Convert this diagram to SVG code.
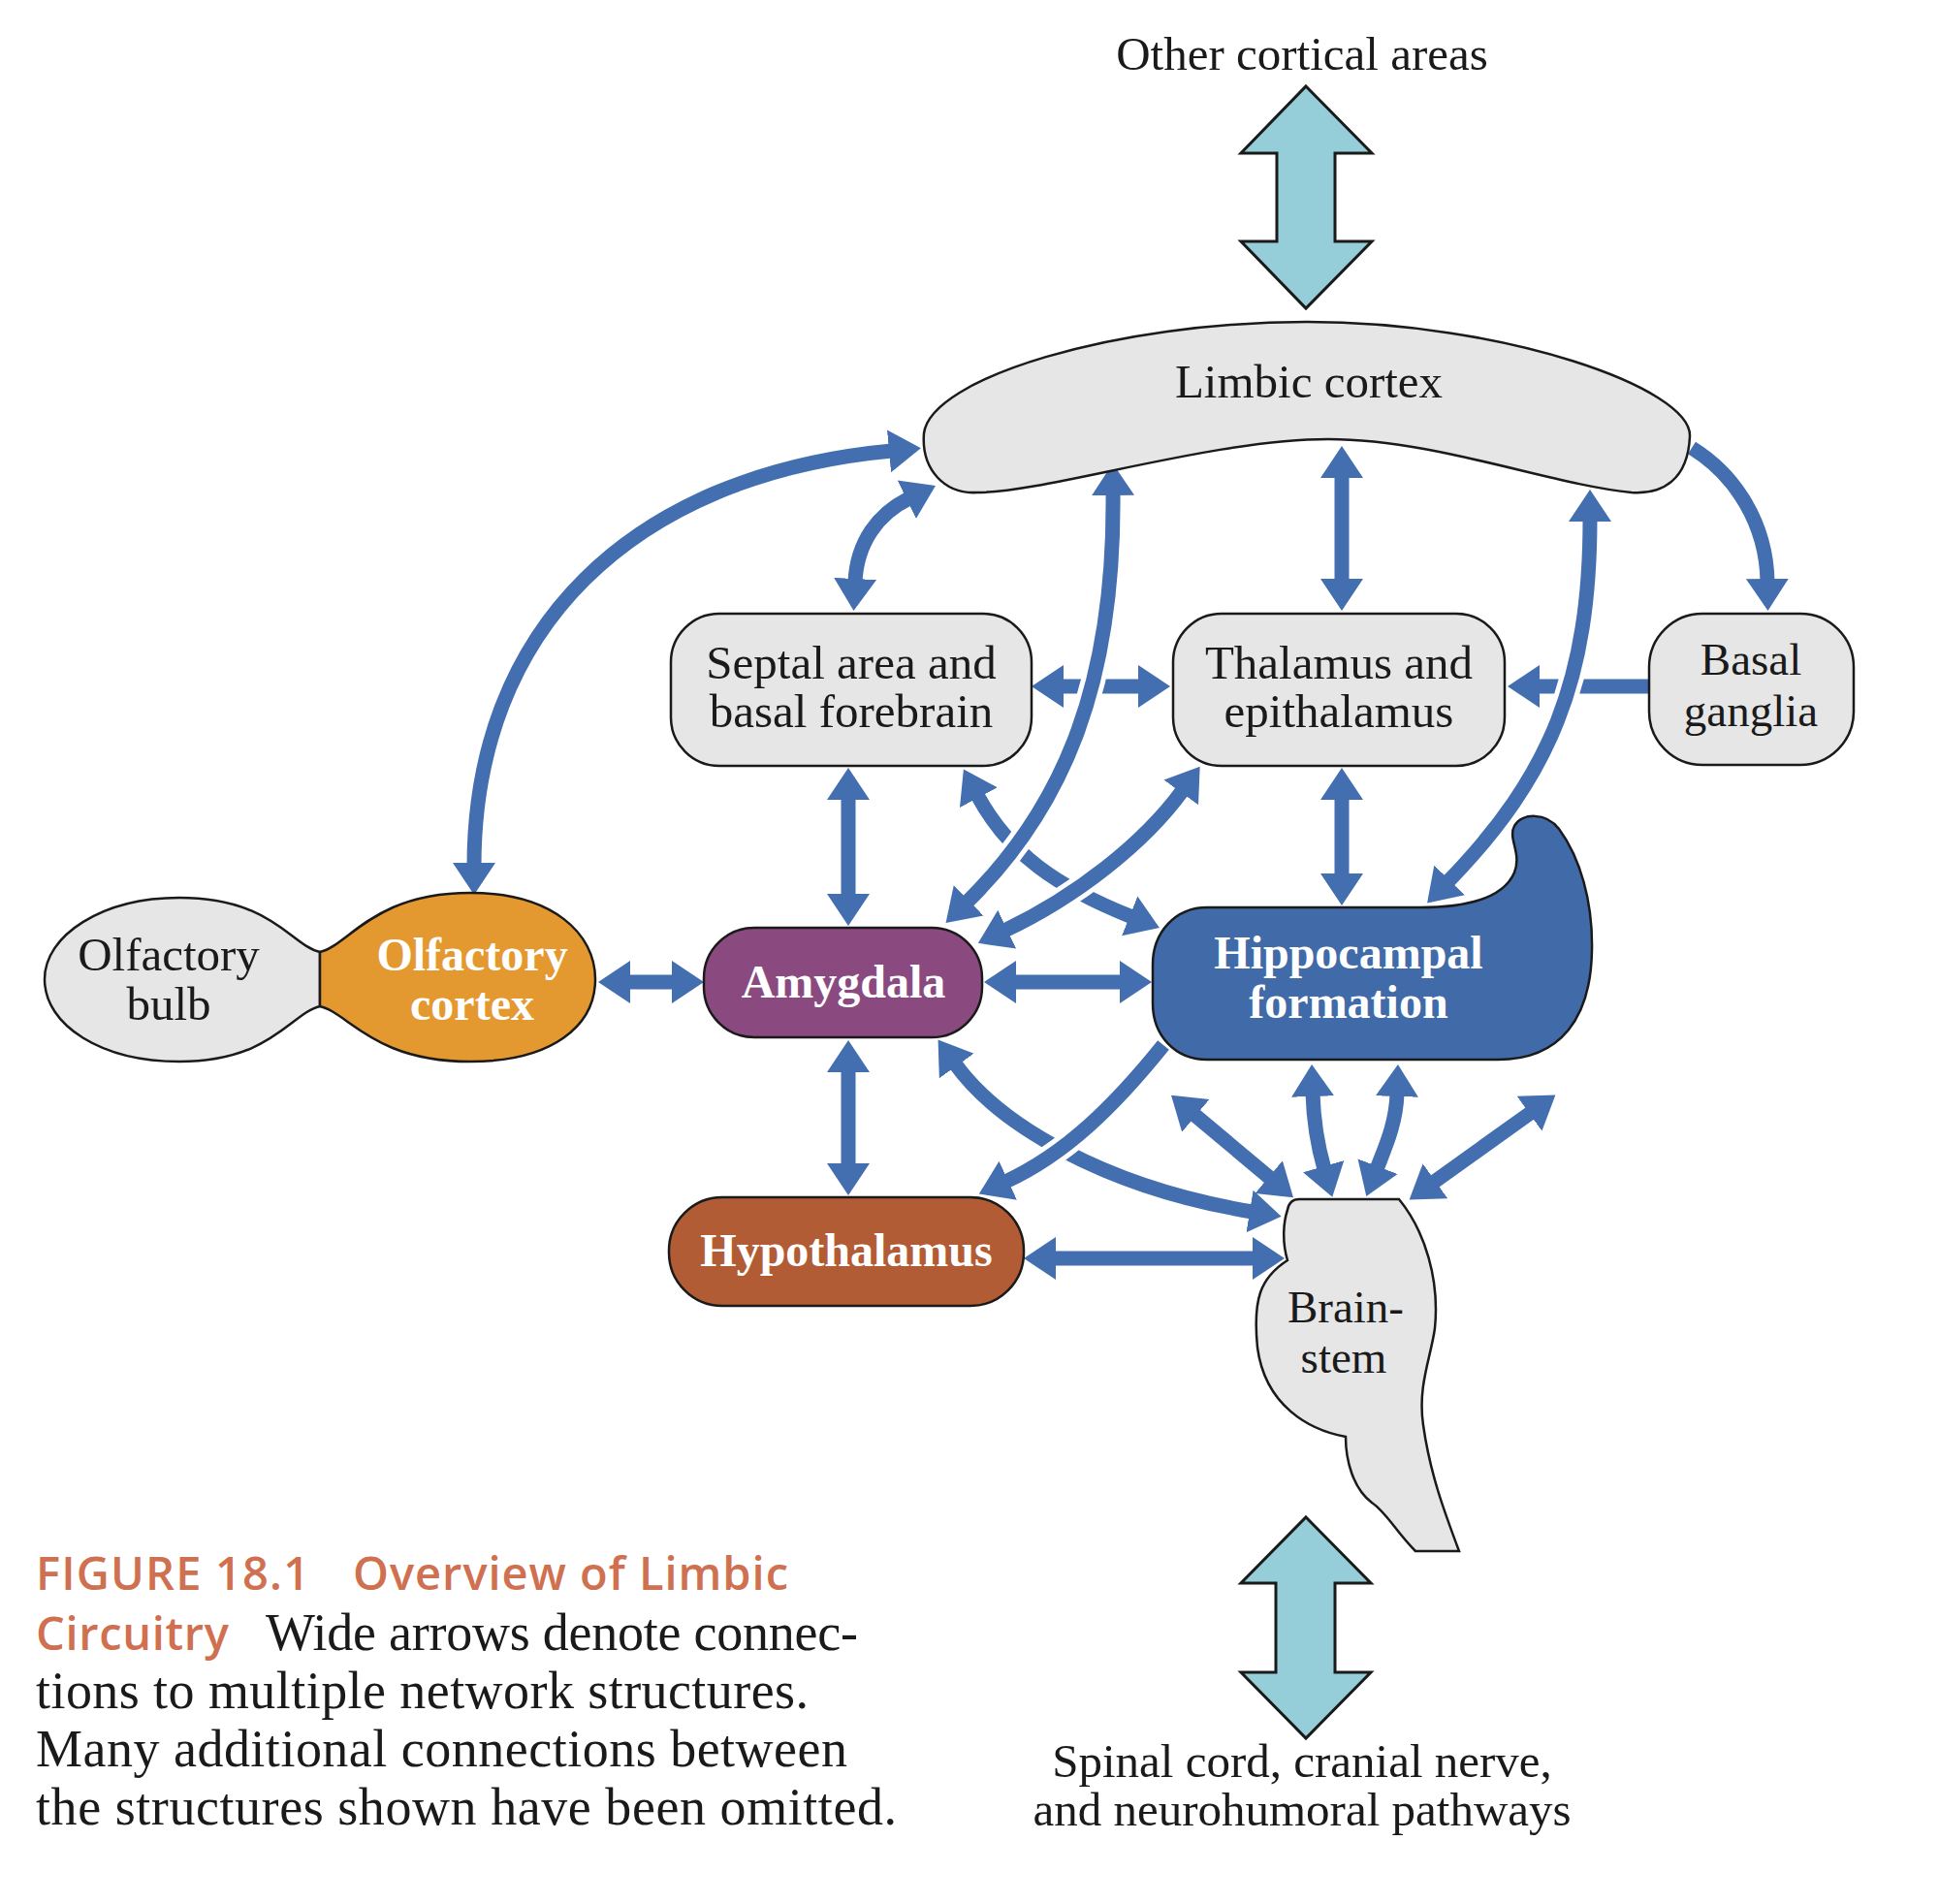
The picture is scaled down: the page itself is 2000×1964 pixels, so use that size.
<svg xmlns="http://www.w3.org/2000/svg" width="2000" height="1964" viewBox="0 0 2000 1964">
<style>
.lbl{font-family:"Liberation Serif","Times New Roman",serif;font-size:49px;fill:#1a1a1a;text-anchor:middle}
.sm{font-size:47px}
.blbl{font-family:"Liberation Serif","Times New Roman",serif;font-size:48px;font-weight:bold;fill:#ffffff;text-anchor:middle}
.box{fill:#e6e6e6;stroke:#1a1a1a;stroke-width:2.5}
.ar{fill:none;stroke:#436eb0;stroke-width:15;marker-start:url(#ah);marker-end:url(#ah)}
.ar1{fill:none;stroke:#436eb0;stroke-width:15;marker-end:url(#ah)}
.halo{fill:none;stroke:#ffffff;stroke-width:25}
.big{fill:#95ced8;stroke:#1a1a1a;stroke-width:3;stroke-linejoin:miter}
.cap{font-family:"Liberation Serif","Times New Roman",serif;font-size:54px;fill:#1a1a1a}
.capo{font-family:"Open Sans","Liberation Sans",sans-serif;font-size:47px;font-weight:600;fill:#cf7050}
</style>
<defs>
<marker id="ah" markerUnits="userSpaceOnUse" markerWidth="36" markerHeight="48" viewBox="0 -24 36 48" refX="3" refY="0" orient="auto-start-reverse">
<path d="M0,-22 L33,0 L0,22 Z" fill="#436eb0"/>
</marker>
</defs>
<rect width="2000" height="1964" fill="#ffffff"/>

<g id="connectors">
<path class="ar" d="M1094,708 L1177,708"/>
<path class="ar1" d="M1700,708 L1585,708"/>
<path class="ar" d="M1008,820 C1040,880 1090,915 1168,946"/>
<path class="ar" d="M985,1097 C1030,1160 1140,1225 1292,1250"/>
<path class="halo" d="M1148,508 C1150,700 1100,830 997,931"/>
<path class="ar" d="M1148,508 C1150,700 1100,830 997,931"/>
<path class="halo" d="M1220,815 C1180,870 1110,925 1036,960"/>
<path class="ar" d="M1220,815 C1180,870 1110,925 1036,960"/>
<path class="halo" d="M1640,535 C1640,700 1600,800 1493,910"/>
<path class="ar" d="M1640,535 C1640,700 1600,800 1493,910"/>
<path class="halo" d="M1200,1078 C1150,1140 1100,1190 1037,1219"/>
<path class="ar1" d="M1200,1078 C1150,1140 1100,1190 1037,1219"/>
<path class="ar" d="M489,893 C489,650 650,490 920,465"/>
<path class="ar" d="M882,600 C884,560 905,530 938,514"/>
<path class="ar" d="M1384,490 L1384,600"/>
<path class="ar1" d="M1745,462 C1790,490 1822,540 1823,600"/>
<path class="ar" d="M875,822 L875,925"/>
<path class="ar" d="M1384,822 L1384,904"/>
<path class="ar" d="M1045,1013 L1158,1013"/>
<path class="ar" d="M647,1013 L696,1013"/>
<path class="ar" d="M875,1103 L875,1203"/>
<path class="ar" d="M1086,1298 L1295,1298"/>
<path class="ar" d="M1231,1149 L1311,1216"/>
<path class="ar" d="M1354,1128 C1355,1160 1360,1185 1366,1206"/>
<path class="ar" d="M1441,1128 C1440,1160 1428,1185 1420,1206"/>
<path class="ar" d="M1580,1147 L1478,1220"/>
<polygon class="big" points="1347,89 1415,158 1377,158 1377,249 1415,249 1347,318 1280,249 1317,249 1317,158 1280,158"/>
<polygon class="big" points="1347,1565 1414,1633 1377,1633 1377,1725 1414,1725 1347,1793 1280,1725 1316,1725 1316,1633 1280,1633"/>
</g>

<g id="other-cortical">
<text class="lbl" x="1343" y="72">Other cortical areas</text>
</g>

<g id="limbic-cortex">
<path class="box" d="M1008,508 C975,510 950,485 953,447 C960,390 1150,332 1348,332 C1550,332 1745,400 1743,450 C1741,495 1715,510 1683,508 C1600,500 1480,453 1370,453 C1250,453 1080,508 1008,508 Z"/>
<text class="lbl" x="1350" y="410">Limbic cortex</text>
</g>

<g id="septal">
<rect class="box" x="692" y="633" width="372" height="157" rx="50" ry="50"/>
<text class="lbl" x="878" y="700">Septal area and</text>
<text class="lbl" x="878" y="750">basal forebrain</text>
</g>

<g id="thalamus">
<rect class="box" x="1210" y="633" width="342" height="157" rx="50" ry="50"/>
<text class="lbl" x="1381" y="700">Thalamus and</text>
<text class="lbl" x="1381" y="750">epithalamus</text>
</g>

<g id="basal-ganglia">
<rect class="box" x="1701" y="633" width="211" height="156" rx="55" ry="55"/>
<text class="lbl sm" x="1806" y="696">Basal</text>
<text class="lbl sm" x="1806" y="749">ganglia</text>
</g>

<g id="olfactory-bulb">
<path class="box" d="M330,982 C300,975 280,926 185,926 C105,926 46,965 46,1010 C46,1058 105,1095 185,1095 C280,1095 300,1045 330,1038 Z"/>
<text class="lbl" x="174" y="1001">Olfactory</text>
<text class="lbl" x="174" y="1052">bulb</text>
</g>

<g id="olfactory-cortex">
<path d="M330,982 C360,975 385,921 485,921 C570,921 614,963 614,1010 C614,1058 570,1095 485,1095 C385,1095 360,1045 330,1038 Z" fill="#e49930" stroke="#1a1a1a" stroke-width="2.5"/>
<text class="blbl" x="487" y="1001">Olfactory</text>
<text class="blbl" x="487" y="1052">cortex</text>
</g>

<g id="amygdala">
<rect x="726" y="957" width="287" height="113" rx="52" ry="52" fill="#8a4a80" stroke="#1a1a1a" stroke-width="2.5"/>
<text class="blbl" x="870" y="1029">Amygdala</text>
</g>

<g id="hippocampal">
<path d="M1245,936 L1465,936 C1510,936 1550,928 1562,900 C1570,880 1555,865 1562,852 C1570,838 1595,838 1608,855 C1630,885 1643,930 1642,980 C1641,1050 1610,1093 1545,1093 L1245,1093 C1212,1093 1189,1068 1189,1035 L1189,995 C1189,962 1212,936 1245,936 Z" fill="#416aa8" stroke="#1a1a1a" stroke-width="2.5"/>
<text class="blbl" x="1391" y="999">Hippocampal</text>
<text class="blbl" x="1391" y="1050">formation</text>
</g>

<g id="hypothalamus">
<rect x="690" y="1235" width="366" height="112" rx="55" ry="55" fill="#b25c36" stroke="#1a1a1a" stroke-width="2.5"/>
<text class="blbl" x="873" y="1306">Hypothalamus</text>
</g>

<g id="brainstem">
<path class="box" d="M1340,1237 L1443,1237 C1470,1270 1485,1320 1480,1370 C1476,1400 1462,1430 1468,1470 C1475,1520 1490,1560 1505,1600 L1460,1600 C1440,1580 1430,1560 1415,1550 C1395,1535 1388,1505 1388,1482 C1350,1475 1305,1450 1297,1390 C1292,1340 1300,1318 1328,1300 C1322,1280 1324,1260 1328,1248 Q1330,1237 1340,1237 Z"/>
<text class="lbl sm" x="1388" y="1364">Brain-</text>
<text class="lbl sm" x="1386" y="1416">stem</text>
</g>

<g id="spinal">
<text class="lbl" x="1343" y="1833">Spinal cord, cranial nerve,</text>
<text class="lbl" x="1343" y="1883">and neurohumoral pathways</text>
</g>

<g id="caption">
<text class="capo" x="37" y="1640" textLength="282">FIGURE 18.1</text>
<text class="capo" x="364" y="1640" textLength="449">Overview of Limbic</text>
<text class="capo" x="37" y="1702" textLength="199">Circuitry</text>
<text class="cap" x="274" y="1702" textLength="611">Wide arrows denote connec-</text>
<text class="cap" x="37" y="1762" textLength="797">tions to multiple network structures.</text>
<text class="cap" x="37" y="1822" textLength="837">Many additional connections between</text>
<text class="cap" x="37" y="1882" textLength="888">the structures shown have been omitted.</text>
</g>
</svg>
